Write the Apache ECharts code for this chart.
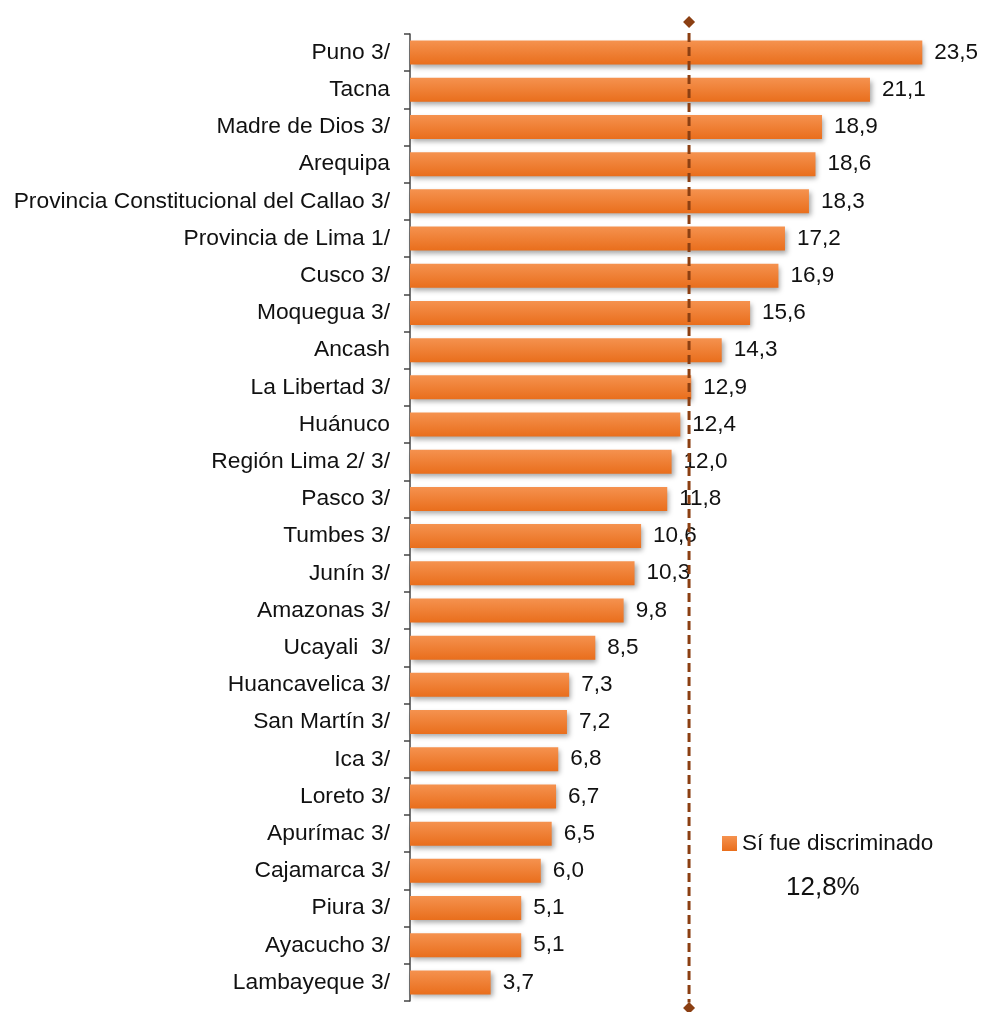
<!DOCTYPE html>
<html lang="es">
<head>
    <meta charset="UTF-8"/>
    <title>Sí fue discriminado</title>
    <script src="https://cdn.jsdelivr.net/npm/echarts@6/dist/echarts.min.js"></script>
</head>
<body style="margin:0;background:#fff">

<div id="main" style="width: 986px;height:1012px;"></div>

<script type="text/javascript">
    // datos por región (de arriba hacia abajo)
    var regiones = ['Puno 3/', 'Tacna', 'Madre de Dios 3/', 'Arequipa',
        'Provincia Constitucional del Callao 3/', 'Provincia de Lima 1/', 'Cusco 3/',
        'Moquegua 3/', 'Ancash', 'La Libertad 3/', 'Huánuco', 'Región Lima 2/ 3/',
        'Pasco 3/', 'Tumbes 3/', 'Junín 3/', 'Amazonas 3/', 'Ucayali  3/',
        'Huancavelica 3/', 'San Martín 3/', 'Ica 3/', 'Loreto 3/', 'Apurímac 3/',
        'Cajamarca 3/', 'Piura 3/', 'Ayacucho 3/', 'Lambayeque 3/'];
    var valores = [23.5, 21.1, 18.9, 18.6, 18.3, 17.2, 16.9, 15.6, 14.3, 12.9, 12.4, 12.0,
        11.8, 10.6, 10.3, 9.8, 8.5, 7.3, 7.2, 6.8, 6.7, 6.5, 6.0, 5.1, 5.1, 3.7];
    var promedio = 12.8;
    // extremos de la línea del promedio (eje auxiliar 0..1)
    var lineaPromedio = [[promedio, -0.0072], [promedio, 1.0124]];

    var fuente = '"Liberation Sans", Arial, sans-serif';
    var myChart = echarts.init(document.getElementById('main'));

    var option = {
        backgroundColor: '#fff',
        textStyle: {fontFamily: fuente},
        grid: {left: 410, right: 31, top: 34, bottom: 11},
        title: {
            text: '12,8%',
            left: 786, top: 875, padding: 0,
            textStyle: {fontFamily: fuente, fontSize: 26, fontWeight: 'normal', color: '#111'}
        },
        legend: {
            data: ['Sí fue discriminado'],
            left: 722, top: 832, padding: 0,
            itemWidth: 15, itemHeight: 15, itemGap: 6,
            icon: 'rect',
            textStyle: {fontFamily: fuente, fontSize: 22.5, color: '#111', padding: [0, 0, 0, 0]}
        },
        xAxis: {
            type: 'value', min: 0, max: 25, show: false,
            splitLine: {show: false}
        },
        yAxis: [{
            type: 'category',
            data: regiones,
            inverse: true,
            axisLine: {lineStyle: {color: '#444', width: 1.5}},
            axisTick: {show: true, length: 6, lineStyle: {color: '#444', width: 1.5}},
            axisLabel: {fontFamily: fuente, fontSize: 22.8, color: '#111', margin: 20}
        }, {
            type: 'value', min: 0, max: 1, show: false
        }],
        series: [{
            name: 'Sí fue discriminado',
            type: 'bar',
            data: valores,
            barWidth: 24,
            itemStyle: {
                color: new echarts.graphic.LinearGradient(0, 0, 0, 1, [
                    {offset: 0, color: '#F5924F'},
                    {offset: 1, color: '#E96E1C'}
                ]),
                shadowColor: 'rgba(0,0,0,0.35)',
                shadowBlur: 5,
                shadowOffsetX: 2,
                shadowOffsetY: 3
            },
            label: {
                show: true, position: 'right', distance: 12,
                fontFamily: fuente, fontSize: 22.5, color: '#111',
                formatter: function (p) { return p.value.toFixed(1).replace('.', ','); }
            },
            z: 2
        }, {
            name: 'promedio',
            type: 'line',
            yAxisIndex: 1,
            data: lineaPromedio,
            clip: false,
            symbol: 'diamond',
            symbolSize: 12,
            itemStyle: {color: '#8B3F12'},
            lineStyle: {color: '#8B3F12', width: 3, type: [9, 5]},
            z: 5
        }]
    };

    myChart.setOption(option);
</script>
</body>
</html>
